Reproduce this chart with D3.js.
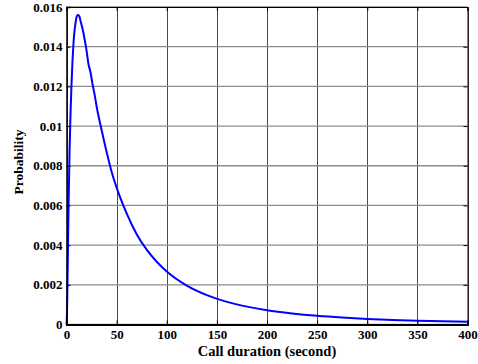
<!DOCTYPE html>
<html>
<head>
<meta charset="utf-8">
<script src="https://cdn.jsdelivr.net/npm/d3@7/dist/d3.min.js"></script>
<style>
  html, body { margin: 0; padding: 0; background: #fff; }
  svg { display: block; }
  svg text { font-family: "Times New Roman", "Liberation Serif", "DejaVu Serif", serif !important; font-weight: bold; fill: #000; }
</style>
</head>
<body>
<svg id="chart" width="478" height="364"></svg>
<script>
// Data
const durations = [0, 0.5, 1, 1.5, 2, 3, 4, 5, 6, 7, 8, 9, 10, 11, 12, 13, 14, 16, 18, 20, 22, 24, 26, 28, 30, 35, 40, 45, 50, 60, 70, 80, 90, 100, 120, 140, 160, 180, 200, 225, 250, 275, 300, 325, 350, 375, 400];
const probabilities = [0, 0.0006, 0.0022, 0.0040, 0.0058, 0.0086, 0.0106, 0.0121, 0.0133, 0.0142, 0.0148, 0.0152, 0.0155, 0.0156, 0.0156, 0.0155, 0.0153, 0.0149, 0.0144, 0.0138, 0.0131, 0.0127, 0.0121, 0.0116, 0.0110, 0.0098, 0.0087, 0.0077, 0.0069, 0.0056, 0.00455, 0.00377, 0.00316, 0.00267, 0.00196, 0.00148, 0.00114, 0.00090, 0.00072, 0.00056, 0.00044, 0.00035, 0.00028, 0.00023, 0.00019, 0.00016, 0.000135];
const xTicks = [0, 50, 100, 150, 200, 250, 300, 350, 400];
const yTicks = [0, 0.002, 0.004, 0.006, 0.008, 0.01, 0.012, 0.014, 0.016];
const yTickLabels = ["0", "0.002", "0.004", "0.006", "0.008", "0.01", "0.012", "0.014", "0.016"];
const xTitle = "Call duration (second)";
const yTitle = "Probability";

const FONT = '"Times New Roman", "Liberation Serif", "DejaVu Serif", serif';
const svg = d3.select("#chart");
const L = 66.5, R = 467.5, T = 7, B = 324.5;
const x = d3.scaleLinear().domain([0, 400]).range([L, R]);
const y = d3.scaleLinear().domain([0, 0.016]).range([B, T]);

// grid
const g = svg.append("g");
g.selectAll(".vg").data(xTicks).enter().append("line")
  .attr("x1", d => Math.round(x(d)) + 0.5).attr("x2", d => Math.round(x(d)) + 0.5)
  .attr("y1", T).attr("y2", B)
  .attr("stroke", "#4a4a4a").attr("stroke-width", 1);
g.selectAll(".hg").data(yTicks).enter().append("line")
  .attr("x1", L).attr("x2", R)
  .attr("y1", d => y(d)).attr("y2", d => y(d))
  .attr("stroke", "#8c8c8c").attr("stroke-width", 1.3);

// curve
const pts = durations.map((d, i) => [d, probabilities[i]]);
svg.append("path")
  .datum(pts)
  .attr("fill", "none")
  .attr("stroke", "#0000ff")
  .attr("stroke-width", 2)
  .attr("stroke-linejoin", "round")
  .attr("d", d3.line().x(d => x(d[0])).y(d => y(d[1])).curve(d3.curveMonotoneX));

// axes
const xAxis = d3.axisBottom(x).tickValues(xTicks).tickSize(-4).tickPadding(5).tickFormat(d3.format("d"));
const yAxis = d3.axisLeft(y).tickValues(yTicks).tickSize(-4).tickPadding(4).tickFormat((d, i) => yTickLabels[i]);
const xa = svg.append("g").attr("transform", `translate(0,${B})`).call(xAxis);
const ya = svg.append("g").attr("transform", `translate(${L},0)`).call(yAxis);
const xt = svg.append("g").attr("transform", `translate(0,${T})`).call(d3.axisTop(x).tickValues(xTicks).tickSize(-4).tickFormat(""));
const yr = svg.append("g").attr("transform", `translate(${R},0)`).call(d3.axisRight(y).tickValues(yTicks).tickSize(-4).tickFormat(""));
[xa, ya, xt, yr].forEach(a => {
  a.attr("font-family", FONT).attr("font-size", 13).attr("font-weight", "bold");
  a.select(".domain").attr("stroke", "#000").attr("stroke-width", 1);
  a.selectAll(".tick line").attr("stroke", "#000").attr("stroke-width", 1);
  a.selectAll("text").attr("fill", "#000");
});
xa.select(".domain").attr("stroke-width", 2);
ya.select(".domain").attr("stroke-width", 1.5);

// titles
svg.append("text").attr("x", (L + R) / 2).attr("y", 356).attr("text-anchor", "middle")
  .attr("font-family", FONT).attr("font-size", 14.5).text(xTitle);
svg.append("text").attr("transform", `translate(23,162) rotate(-90)`).attr("text-anchor", "middle")
  .attr("font-family", FONT).attr("font-size", 13.5).text(yTitle);
</script>
</body>
</html>
